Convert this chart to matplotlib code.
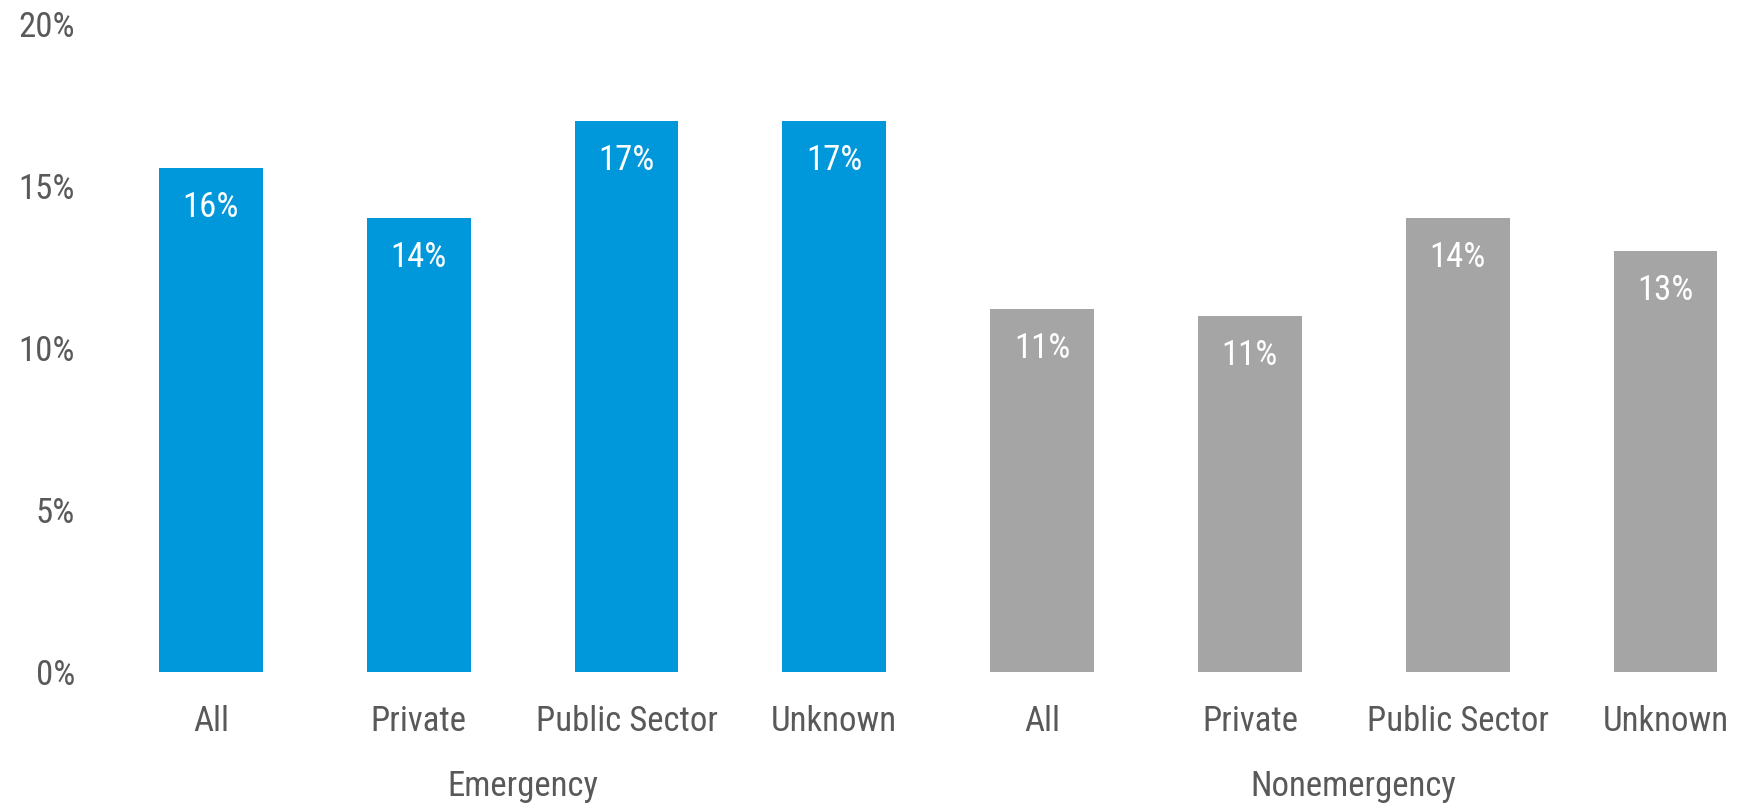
import matplotlib
matplotlib.use("Agg")
import matplotlib.pyplot as plt
from matplotlib.ticker import FuncFormatter

plt.rcParams['font.family'] = ['Roboto Condensed', 'Liberation Sans Narrow', 'Roboto', 'DejaVu Sans']

categories = ["All", "Private", "Public Sector", "Unknown",
              "All", "Private", "Public Sector", "Unknown"]
groups = ["Emergency", "Nonemergency"]
values = [15.55, 14.0, 17.0, 17.0, 11.2, 11.0, 14.0, 13.0]
labels = ["16%", "14%", "17%", "17%", "11%", "11%", "14%", "13%"]
colors = ["#0098DA"] * 4 + ["#A5A5A5"] * 4
yticks = [0, 5, 10, 15, 20]

W, H = 1746, 805
fig = plt.figure(figsize=(W / 100, H / 100), dpi=100)
left_px, bottom_px, top_px = 107, 672, 24
ax = fig.add_axes([left_px / W, (H - bottom_px) / H, 1 - left_px / W, (bottom_px - top_px) / H])

x = list(range(len(values)))
bars = ax.bar(x, values, width=0.5, color=colors, edgecolor='none')

spacing_px = 207.8
ax.set_xlim(-0.5, -0.5 + (W - left_px) / spacing_px)
ax.set_ylim(0, 20)
ax.set_yticks(yticks)
ax.yaxis.set_major_formatter(FuncFormatter(lambda v, p: f"{int(v)}%"))
ax.tick_params(axis='y', length=0, pad=23, labelsize=25, labelcolor="#595959")
ax.set_xticks([])
for s in ax.spines.values():
    s.set_visible(False)

for xi, v, lab in zip(x, values, labels):
    ax.annotate(lab, xy=(xi, v), xytext=(0, -28.5), textcoords='offset points',
                ha='center', va='center', color='white', fontsize=25)

for xi, c in zip(x, categories):
    ax.annotate(c, xy=(xi, 0), xycoords=('data', 'axes fraction'), xytext=(0, -35.5),
                textcoords='offset points', ha='center', va='center',
                color="#595959", fontsize=25, annotation_clip=False)

for gi, g in enumerate(groups):
    center = gi * 4 + 1.5
    ax.annotate(g, xy=(center, 0), xycoords=('data', 'axes fraction'), xytext=(0, -82.5),
                textcoords='offset points', ha='center', va='center',
                color="#595959", fontsize=25, annotation_clip=False)

fig.savefig("out.png", dpi=100, facecolor='white')
